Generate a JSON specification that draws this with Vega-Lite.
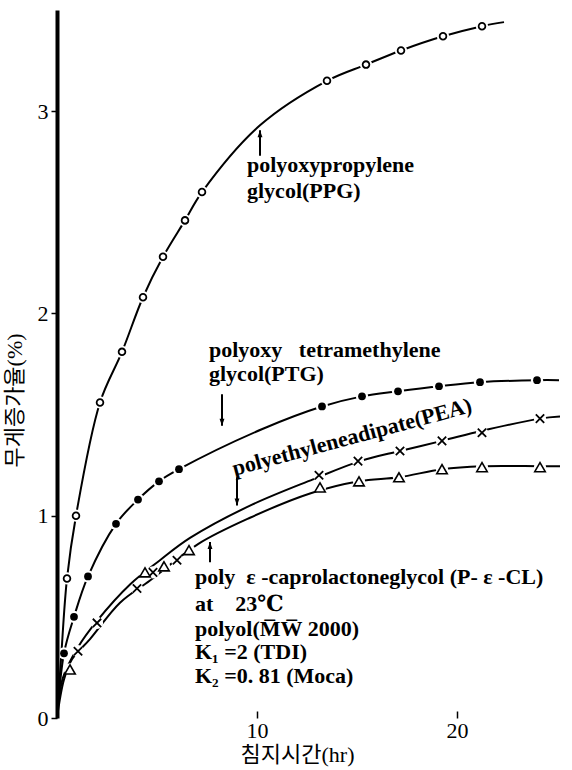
{
  "$schema": "https://vega.github.io/schema/vega-lite/v6.json",
  "width": 510,
  "height": 708,
  "autosize": {"type": "none"},
  "padding": {"left": 57, "top": 10, "right": 5, "bottom": 52},
  "background": "white",
  "config": {
    "view": {"stroke": null},
    "axis": {"labelFont": "'Liberation Serif', 'DejaVu Serif', serif", "labelFontSize": 22, "labelColor": "black", "tickColor": "black", "domainColor": "black", "titleColor": "black", "grid": false}
  },
  "datasets": {
    "curves": [
      {"series": "PPG", "t": 0, "w": 0}, {"series": "PPG", "t": 0.2, "w": 0.29}, {"series": "PPG", "t": 0.5, "w": 0.69}, {"series": "PPG", "t": 0.95, "w": 1.0}, {"series": "PPG", "t": 2.15, "w": 1.56}, {"series": "PPG", "t": 3.25, "w": 1.81}, {"series": "PPG", "t": 4.3, "w": 2.08}, {"series": "PPG", "t": 5.3, "w": 2.28}, {"series": "PPG", "t": 6.4, "w": 2.46}, {"series": "PPG", "t": 7.25, "w": 2.6}, {"series": "PPG", "t": 10.15, "w": 2.93}, {"series": "PPG", "t": 13.5, "w": 3.15}, {"series": "PPG", "t": 15.45, "w": 3.23}, {"series": "PPG", "t": 17.2, "w": 3.3}, {"series": "PPG", "t": 19.3, "w": 3.37}, {"series": "PPG", "t": 21.25, "w": 3.42}, {"series": "PPG", "t": 22.35, "w": 3.44},
      {"series": "PTG", "t": 0, "w": 0}, {"series": "PTG", "t": 0.35, "w": 0.32}, {"series": "PTG", "t": 0.85, "w": 0.5}, {"series": "PTG", "t": 1.55, "w": 0.7}, {"series": "PTG", "t": 2.95, "w": 0.96}, {"series": "PTG", "t": 4.05, "w": 1.08}, {"series": "PTG", "t": 5.1, "w": 1.17}, {"series": "PTG", "t": 6.1, "w": 1.23}, {"series": "PTG", "t": 10.3, "w": 1.43}, {"series": "PTG", "t": 13.25, "w": 1.54}, {"series": "PTG", "t": 15.25, "w": 1.59}, {"series": "PTG", "t": 17.05, "w": 1.615}, {"series": "PTG", "t": 19.1, "w": 1.64}, {"series": "PTG", "t": 21.15, "w": 1.66}, {"series": "PTG", "t": 24.0, "w": 1.67}, {"series": "PTG", "t": 25.1, "w": 1.67},
      {"series": "PEA", "t": 0, "w": 0}, {"series": "PEA", "t": 0.3, "w": 0.2}, {"series": "PEA", "t": 1.05, "w": 0.35}, {"series": "PEA", "t": 2.0, "w": 0.48}, {"series": "PEA", "t": 3.65, "w": 0.66}, {"series": "PEA", "t": 5.15, "w": 0.78}, {"series": "PEA", "t": 6.65, "w": 0.89}, {"series": "PEA", "t": 9.65, "w": 1.05}, {"series": "PEA", "t": 12.8, "w": 1.18}, {"series": "PEA", "t": 15.15, "w": 1.27}, {"series": "PEA", "t": 17.15, "w": 1.32}, {"series": "PEA", "t": 19.25, "w": 1.37}, {"series": "PEA", "t": 21.25, "w": 1.42}, {"series": "PEA", "t": 24.15, "w": 1.48}, {"series": "PEA", "t": 25.15, "w": 1.49},
      {"series": "PCL", "t": 0, "w": 0}, {"series": "PCL", "t": 0.35, "w": 0.19}, {"series": "PCL", "t": 0.75, "w": 0.29}, {"series": "PCL", "t": 1.65, "w": 0.39}, {"series": "PCL", "t": 3.15, "w": 0.57}, {"series": "PCL", "t": 4.65, "w": 0.68}, {"series": "PCL", "t": 7.05, "w": 0.86}, {"series": "PCL", "t": 9.65, "w": 0.99}, {"series": "PCL", "t": 12.65, "w": 1.11}, {"series": "PCL", "t": 15.1, "w": 1.17}, {"series": "PCL", "t": 17.1, "w": 1.19}, {"series": "PCL", "t": 19.25, "w": 1.23}, {"series": "PCL", "t": 21.25, "w": 1.245}, {"series": "PCL", "t": 24.15, "w": 1.245}, {"series": "PCL", "t": 25.15, "w": 1.245}
    ],
    "pts": [
      {"series": "PPG", "t": 0.5, "w": 0.69}, {"series": "PPG", "t": 0.95, "w": 1.0}, {"series": "PPG", "t": 2.15, "w": 1.56}, {"series": "PPG", "t": 3.25, "w": 1.81}, {"series": "PPG", "t": 4.3, "w": 2.08}, {"series": "PPG", "t": 5.3, "w": 2.28}, {"series": "PPG", "t": 6.4, "w": 2.46}, {"series": "PPG", "t": 7.25, "w": 2.6}, {"series": "PPG", "t": 13.5, "w": 3.15}, {"series": "PPG", "t": 15.45, "w": 3.23}, {"series": "PPG", "t": 17.2, "w": 3.3}, {"series": "PPG", "t": 19.3, "w": 3.37}, {"series": "PPG", "t": 21.25, "w": 3.42},
      {"series": "PTG", "t": 0.35, "w": 0.32}, {"series": "PTG", "t": 0.85, "w": 0.5}, {"series": "PTG", "t": 1.55, "w": 0.7}, {"series": "PTG", "t": 2.95, "w": 0.96}, {"series": "PTG", "t": 4.05, "w": 1.08}, {"series": "PTG", "t": 5.1, "w": 1.17}, {"series": "PTG", "t": 6.1, "w": 1.23}, {"series": "PTG", "t": 13.25, "w": 1.54}, {"series": "PTG", "t": 15.25, "w": 1.59}, {"series": "PTG", "t": 17.05, "w": 1.615}, {"series": "PTG", "t": 19.1, "w": 1.64}, {"series": "PTG", "t": 21.15, "w": 1.66}, {"series": "PTG", "t": 24.0, "w": 1.67},
      {"series": "PEA", "t": 1.05, "w": 0.33}, {"series": "PEA", "t": 2.0, "w": 0.47}, {"series": "PEA", "t": 4.0, "w": 0.64}, {"series": "PEA", "t": 4.8, "w": 0.72}, {"series": "PEA", "t": 6.0, "w": 0.78}, {"series": "PEA", "t": 13.1, "w": 1.2}, {"series": "PEA", "t": 15.05, "w": 1.27}, {"series": "PEA", "t": 17.15, "w": 1.32}, {"series": "PEA", "t": 19.25, "w": 1.37}, {"series": "PEA", "t": 21.25, "w": 1.41}, {"series": "PEA", "t": 24.15, "w": 1.48},
      {"series": "PCL", "t": 0.65, "w": 0.24}, {"series": "PCL", "t": 4.4, "w": 0.72}, {"series": "PCL", "t": 5.35, "w": 0.75}, {"series": "PCL", "t": 6.6, "w": 0.83}, {"series": "PCL", "t": 13.15, "w": 1.14}, {"series": "PCL", "t": 15.1, "w": 1.17}, {"series": "PCL", "t": 17.1, "w": 1.19}, {"series": "PCL", "t": 19.25, "w": 1.23}, {"series": "PCL", "t": 21.25, "w": 1.24}, {"series": "PCL", "t": 24.15, "w": 1.24}
    ],
    "notes": [
      {"label": "polyoxypropylene", "t": 9.5, "w": 2.733},
      {"label": "glycol(PPG)", "t": 9.5, "w": 2.605},
      {"label": "polyoxy\u00a0\u00a0\u00a0tetramethylene", "t": 7.6, "w": 1.819},
      {"label": "glycol(PTG)", "t": 7.6, "w": 1.70},
      {"label": "poly\u00a0\u00a0ε\u00a0-caprolactoneglycol\u00a0(P-\u00a0ε\u00a0-CL)", "t": 6.9, "w": 0.697},
      {"label": "at\u00a0\u00a0\u00a0\u00a023℃", "t": 6.9, "w": 0.564},
      {"label": "polyol(M̅W̅ 2000)", "t": 6.9, "w": 0.44},
      {"label": "K₁ =2 (TDI)", "t": 6.9, "w": 0.326},
      {"label": "K₂ =0. 81 (Moca)", "t": 6.9, "w": 0.208}
    ],
    "arrows": [
      {"t": 10.15, "tail": 2.78, "head": 2.905, "dir": "up"},
      {"t": 8.25, "tail": 1.6, "head": 1.445, "dir": "down"},
      {"t": 9.0, "tail": 1.19, "head": 1.05, "dir": "down"},
      {"t": 7.65, "tail": 0.77, "head": 0.87, "dir": "up"}
    ]
  },
  "encoding": {
    "x": {"field": "t", "type": "quantitative", "scale": {"domain": [0, 25.5], "nice": false, "zero": false},
      "axis": {"values": [10, 20], "domain": false, "tickSize": -7, "tickWidth": 1.5, "labelPadding": 9, "title": "침지시간(hr)", "titleFont": "'Liberation Serif', 'DejaVu Serif', 'Noto Sans CJK KR', serif", "titleFontSize": 22, "titleFontWeight": "normal", "titleX": 240, "titleY": 36, "titleBaseline": "middle", "titleAlign": "center"}},
    "y": {"field": "w", "type": "quantitative", "scale": {"domain": [0, 3.5], "nice": false},
      "axis": {"values": [0, 1, 2, 3], "tickSize": 6, "tickWidth": 1.5, "domainWidth": 4, "labelPadding": 3, "zindex": 1, "title": "무게증가율(%)", "titleFont": "'Liberation Serif', 'DejaVu Serif', 'Noto Sans CJK KR', serif", "titleFontSize": 22, "titleFontWeight": "normal", "titleX": -43, "titleY": 390, "titleAngle": -90, "titleAlign": "center", "titleBaseline": "middle"}}
  },
  "layer": [
    {"data": {"name": "curves"}, "mark": {"type": "line", "color": "black", "strokeWidth": 2, "interpolate": "catmull-rom"}, "encoding": {"detail": {"field": "series"}}},
    {"data": {"name": "pts"}, "mark": {"type": "point", "filled": true, "color": "white", "opacity": 1},
      "encoding": {"size": {"field": "series", "type": "nominal", "scale": {"domain": ["PPG", "PTG", "PEA", "PCL"], "range": [150, 150, 200, 240]}, "legend": null}}},
    {"data": {"name": "pts"}, "transform": [{"filter": "datum.series === 'PPG'"}], "mark": {"type": "point", "shape": "circle", "fill": "white", "stroke": "black", "strokeWidth": 1.8, "size": 45, "opacity": 1}},
    {"data": {"name": "pts"}, "transform": [{"filter": "datum.series === 'PTG'"}], "mark": {"type": "point", "shape": "circle", "filled": true, "color": "black", "size": 60, "opacity": 1}},
    {"data": {"name": "pts"}, "transform": [{"filter": "datum.series === 'PEA'"}], "mark": {"type": "point", "shape": "M-1,-1L1,1M-1,1L1,-1", "filled": false, "stroke": "black", "strokeWidth": 1.8, "size": 70, "opacity": 1}},
    {"data": {"name": "pts"}, "transform": [{"filter": "datum.series === 'PCL'"}], "mark": {"type": "point", "shape": "triangle-up", "fill": "white", "stroke": "black", "strokeWidth": 1.6, "size": 110, "opacity": 1}},
    {"data": {"name": "arrows"}, "mark": {"type": "rule", "color": "black", "strokeWidth": 2},
      "encoding": {"y": {"field": "tail", "type": "quantitative"}, "y2": {"field": "head"}}},
    {"data": {"name": "arrows"}, "mark": {"type": "point", "filled": true, "color": "black", "size": 49, "opacity": 1},
      "encoding": {"y": {"field": "head", "type": "quantitative"},
        "shape": {"field": "dir", "type": "nominal", "scale": {"domain": ["up", "down"], "range": ["M0,0L0.7,2L-0.7,2Z", "M0,0L0.7,-2L-0.7,-2Z"]}, "legend": null}}},
    {"data": {"name": "notes"}, "mark": {"type": "text", "align": "left", "baseline": "middle", "font": "'Liberation Serif', 'DejaVu Serif', serif", "fontSize": 22, "fontWeight": "bold", "color": "black"},
      "encoding": {"text": {"field": "label"}}},
    {"data": {"values": [{"label": "polyethyleneadipate(PEA)", "t": 14.75, "w": 1.389}]}, "mark": {"type": "text", "align": "center", "baseline": "middle", "angle": -15, "font": "'Liberation Serif', 'DejaVu Serif', serif", "fontSize": 22, "fontWeight": "bold", "color": "black"},
      "encoding": {"text": {"field": "label"}}},
    {"mark": {"type": "rule", "color": "black", "strokeWidth": 3.5},
      "encoding": {"x": {"datum": 0}, "x2": {"datum": 22.6}, "y": {"datum": 0}}}
  ]
}
